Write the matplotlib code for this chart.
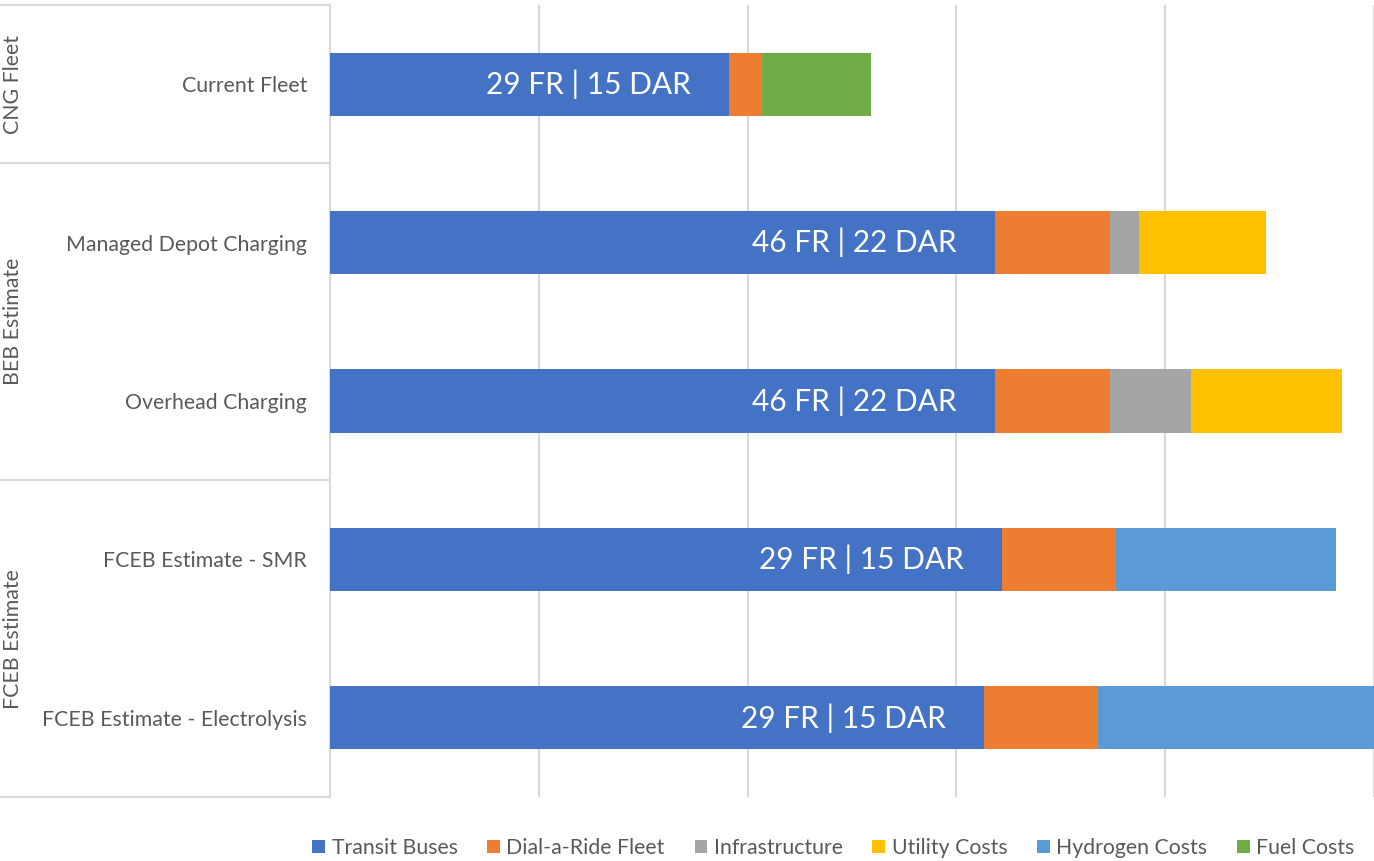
import matplotlib
matplotlib.use("Agg")
import matplotlib.pyplot as plt
import matplotlib.transforms as mtransforms
import numpy as np

# scenario rows, top to bottom
scenarios = ["Current Fleet", "Managed Depot Charging", "Overhead Charging",
             "FCEB Estimate - SMR", "FCEB Estimate - Electrolysis"]
groups = ["CNG Fleet", "BEB Estimate", "FCEB Estimate"]
group_rows = [(0, 0), (1, 2), (3, 4)]
bar_labels = ["29 FR | 15 DAR", "46 FR | 22 DAR", "46 FR | 22 DAR",
              "29 FR | 15 DAR", "29 FR | 15 DAR"]

# cost components (same units for all, axis max 50)
transit_buses = [19.1, 31.85, 31.85, 32.2, 31.3]
dial_a_ride = [1.6, 5.5, 5.5, 5.45, 5.5]
infrastructure = [0, 1.4, 3.9, 0, 0]
utility_costs = [0, 6.1, 7.2, 0, 0]
hydrogen_costs = [0, 0, 0, 10.55, 14.0]
fuel_costs = [5.2, 0, 0, 0, 0]

series = [
    ("Transit Buses", transit_buses, "#4472C4"),
    ("Dial-a-Ride Fleet", dial_a_ride, "#ED7D31"),
    ("Infrastructure", infrastructure, "#A5A5A5"),
    ("Utility Costs", utility_costs, "#FFC000"),
    ("Hydrogen Costs", hydrogen_costs, "#5B9BD5"),
    ("Fuel Costs", fuel_costs, "#70AD47"),
]

plt.rcParams["font.family"] = ["Lato", "DejaVu Sans"]
text_gray = "#595959"
line_gray = "#D9D9D9"

fig = plt.figure(figsize=(13.74, 8.61), dpi=100)
ax = fig.add_axes([330 / 1374, 1 - 797 / 861, 1044 / 1374, 792 / 861])

y = np.arange(len(scenarios))
left = np.zeros(len(scenarios))
for name, vals, color in series:
    vals = np.array(vals, dtype=float)
    ax.barh(y, vals, left=left, height=0.4, color=color, label=name, zorder=3)
    left += vals

ax.set_xlim(0, 50)
ax.set_ylim(len(scenarios) - 0.5, -0.5)
ax.set_xticks([10, 20, 30, 40, 50])
ax.set_xticklabels([])
ax.tick_params(axis="x", length=0)
ax.grid(axis="x", color=line_gray, linewidth=1.5, zorder=0)
ax.set_yticks(y)
ax.set_yticklabels(scenarios, fontsize=15.3, color=text_gray)
ax.tick_params(axis="y", length=0, pad=16.5)
for side in ["top", "right", "bottom"]:
    ax.spines[side].set_visible(False)
ax.spines["left"].set_color(line_gray)
ax.spines["left"].set_linewidth(1.5)

# white labels inside the transit bus segment
for i, lbl in enumerate(bar_labels):
    ax.annotate(lbl, (transit_buses[i], y[i]), xytext=(-38, 0),
                textcoords="offset pixels", ha="right", va="center",
                color="white", fontsize=21.5, zorder=4)

# grouped category table on the left
trans = mtransforms.blended_transform_factory(ax.transAxes, ax.transData)
x0 = -330 / 1044
bounds = [-0.5, 0.5, 2.5, 4.5]
for b in bounds:
    ax.plot([x0, 0], [b, b], transform=trans, color=line_gray,
            linewidth=1.5, clip_on=False)
for g, (r0, r1) in zip(groups, group_rows):
    ax.text(x0 + 13 / 1044, (r0 + r1) / 2, g, transform=trans, rotation=90,
            ha="center", va="center", fontsize=15.3, color=text_gray)

leg = fig.legend(loc="lower center", bbox_to_anchor=(0.6065, -0.019), ncol=6,
                 frameon=False, fontsize=15.3, handlelength=0.6,
                 handleheight=0.6, handletextpad=0.3, columnspacing=1.4)
for t in leg.get_texts():
    t.set_color(text_gray)

fig.savefig("out.png", dpi=100)
